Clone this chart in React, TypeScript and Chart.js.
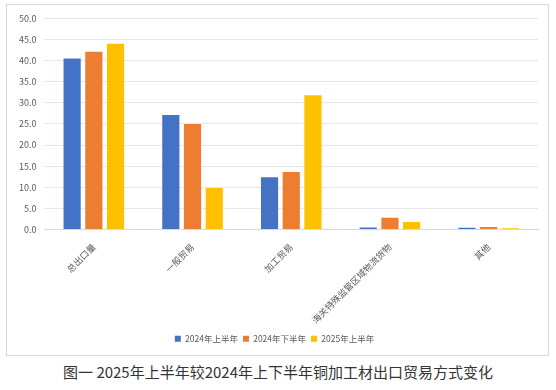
import React, { useEffect, useRef } from "react";
import { Chart, registerables } from "chart.js";

Chart.register(...registerables);

const categories = ["总出口量", "一般贸易", "加工贸易", "海关特殊监管区域物流货物", "其他"];
const series2024H1 = [40.5, 27.1, 12.4, 0.5, 0.4];
const series2024H2 = [42.1, 25.0, 13.6, 2.8, 0.6];
const series2025H1 = [44.0, 9.8, 31.8, 1.8, 0.3];
const seriesNames = ["2024年上半年", "2024年下半年", "2025年上半年"];
const seriesColors = ["#4472C4", "#ED7D31", "#FFC000"];
const caption = "图一 2025年上半年较2024年上下半年铜加工材出口贸易方式变化";

const FONT = "'Noto Sans CJK SC', 'Noto Sans', sans-serif";

export default function App() {
  const ref = useRef<HTMLCanvasElement>(null);
  useEffect(() => {
    if (!ref.current) return;
    const data = [series2024H1, series2024H2, series2025H1];
    const chart = new Chart(ref.current, {
      type: "bar",
      data: {
        labels: categories,
        datasets: data.map((d, i) => ({
          label: seriesNames[i],
          data: d,
          backgroundColor: seriesColors[i],
          categoryPercentage: 0.66,
          barPercentage: 0.79,
        })),
      },
      options: {
        animation: false,
        responsive: false,
        maintainAspectRatio: false,
        layout: { padding: { left: 4, right: 10, top: -3, bottom: 2 } },
        plugins: {
          legend: {
            position: "bottom",
            labels: {
              boxWidth: 6,
              boxHeight: 6,
              padding: 5,
              color: "#595959",
              font: { family: FONT, size: 8.5 },
            },
          },
          tooltip: { enabled: false },
        },
        scales: {
          x: {
            grid: { display: false },
            border: { display: true, color: "#D9D9D9" },
            ticks: {
              minRotation: 45,
              maxRotation: 45,
              autoSkip: false,
              color: "#595959",
              padding: 4,
              font: { family: FONT, size: 9 },
            },
          },
          y: {
            min: 0,
            max: 50,
            ticks: {
              stepSize: 5,
              color: "#595959",
              padding: 8,
              font: { family: FONT, size: 9 },
              callback: (v: any) => Number(v).toFixed(1),
            },
            grid: { color: "#E6E6E6", drawTicks: false },
            border: { display: false },
          },
        },
      },
    });
    return () => chart.destroy();
  }, []);
  return (
    <div style={{ position: "absolute", left: 0, top: 0, width: 556, height: 390, background: "#fff" }}>
      <div
        style={{
          position: "absolute",
          left: 6,
          top: 4,
          width: 541,
          height: 350,
          border: "1px solid #D9D9D9",
        }}
      >
        <canvas ref={ref} width={541} height={350} style={{ display: "block" }} />
      </div>
      <div
        style={{
          position: "absolute",
          left: 0,
          top: 362,
          width: 556,
          textAlign: "center",
          fontFamily: FONT,
          fontSize: 15,
          color: "#333",
          lineHeight: "20px",
        }}
      >
        {caption}
      </div>
    </div>
  );
}
